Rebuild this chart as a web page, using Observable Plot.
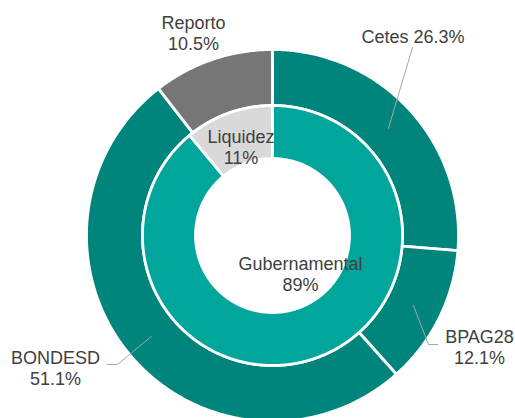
<!DOCTYPE html>
<html>
<head>
<meta charset="utf-8">
<script src="https://cdn.jsdelivr.net/npm/d3@7"></script>
<script src="https://cdn.jsdelivr.net/npm/@observablehq/plot@0.6"></script>
<style>
  html, body { margin: 0; padding: 0; background: #fff; overflow: hidden; }
</style>
</head>
<body>
<div id="chart"></div>
<script>
// ---- data ----
const outerNames = ["Cetes", "BPAG28", "BONDESD", "Reporto"];
const outerValues = [26.3, 12.1, 51.1, 10.5];
const innerNames = ["Gubernamental", "Liquidez"];
const innerValues = [89, 11];

// ---- layout (styles) ----
const colorDomain = ["Cetes", "BPAG28", "BONDESD", "Reporto", "Gubernamental", "Liquidez"];
const colorRange = ["#00857D", "#00857D", "#00857D", "#767676", "#00A69C", "#D9D9D9"];
const R_OUT = 186, R_MID = 130, R_IN = 77;
const FONT = 18;
// label placement offsets relative to chart centre (layout)
const labelPos = {
  Cetes: [140.5, -199.6],
  BPAG28: [207, 111.4],
  BONDESD: [-217, 132.4],
  Reporto: [-79, -202.6],
  Gubernamental: [28, 38.4],
  Liquidez: [-31.5, -88.6]
};
const leaderEnds = {
  Cetes: [[140, -188]],
  BPAG28: [[156, 109], [165, 109]],
  BONDESD: [[-155, 129], [-165, 129]]
};

const pie = d3.pie().sort(null).value(d => d.value);
const outer = pie(outerNames.map((n, i) => ({name: n, value: outerValues[i]})));
const inner = pie(innerNames.map((n, i) => ({name: n, value: innerValues[i]})));

function polar(r, a) { return {x: r * Math.sin(a), y: -r * Math.cos(a)}; }

function slicePoints(arcs, r0, r1) {
  const pts = [];
  for (const s of arcs) {
    const a0 = s.startAngle, a1 = s.endAngle;
    const n = Math.max(2, Math.ceil((a1 - a0) / (Math.PI / 360)) + 1);
    const ring = [];
    for (let i = 0; i < n; i++) ring.push(polar(r1, a0 + (a1 - a0) * i / (n - 1)));
    for (let i = n - 1; i >= 0; i--) ring.push(polar(r0, a0 + (a1 - a0) * i / (n - 1)));
    ring.push(ring[0]);
    for (const p of ring) pts.push({name: s.data.name, x: p.x, y: p.y});
  }
  return pts;
}

const outerPts = slicePoints(outer, R_MID, R_OUT);
const innerPts = slicePoints(inner, R_IN, R_MID);

// leader lines from ring middle at mid-angle
const leaderPts = [];
for (const s of outer) {
  const ends = leaderEnds[s.data.name];
  if (!ends) continue;
  const m = polar((R_MID + R_OUT) / 2 - 0.5, (s.startAngle + s.endAngle) / 2);
  leaderPts.push({name: s.data.name, x: m.x, y: m.y});
  for (const e of ends) leaderPts.push({name: s.data.name, x: e[0], y: e[1]});
}

const labels = [];
outer.forEach(s => {
  const n = s.data.name;
  const sep = n === "Cetes" ? " " : "\n";
  labels.push({x: labelPos[n][0], y: labelPos[n][1], text: n + sep + s.data.value.toFixed(1) + "%"});
});
inner.forEach(s => {
  const n = s.data.name;
  labels.push({x: labelPos[n][0], y: labelPos[n][1], text: n + "\n" + s.data.value + "%"});
});

const chart = Plot.plot({
  width: 515,
  height: 418,
  margin: 0,
  style: {fontFamily: "'Liberation Sans', Arial, sans-serif", background: "#fff"},
  x: {domain: [-185, 185], range: [87, 457], axis: null},
  y: {domain: [-185, 185], range: [50, 420], axis: null},
  color: {domain: colorDomain, range: colorRange},
  marks: [
    Plot.line(outerPts, {x: "x", y: "y", z: "name", fill: "name", stroke: "white", strokeWidth: 2.8, strokeLinejoin: "round", curve: "linear"}),
    Plot.line(innerPts, {x: "x", y: "y", z: "name", fill: "name", stroke: "white", strokeWidth: 2.8, strokeLinejoin: "round", curve: "linear"}),
    Plot.line(leaderPts, {x: "x", y: "y", z: "name", stroke: "#A6A6A6", strokeWidth: 1}),
    Plot.text(labels, {x: "x", y: "y", text: "text", fontSize: FONT, lineHeight: 1.16, fill: "#404040", textAnchor: "middle"})
  ]
});
document.getElementById("chart").appendChild(chart);
</script>
</body>
</html>
